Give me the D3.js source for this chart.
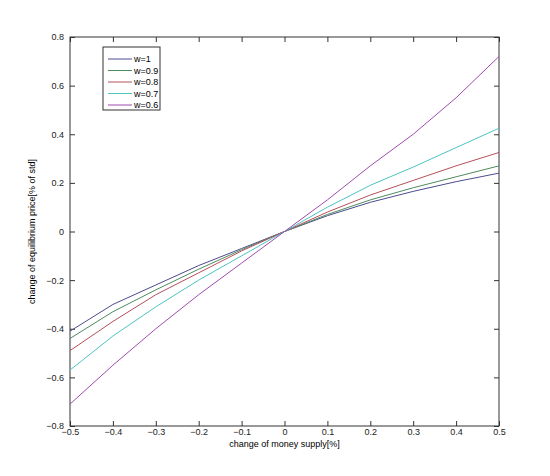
<!DOCTYPE html>
<html><head><meta charset="utf-8">
<script src="https://cdn.jsdelivr.net/npm/d3@7"></script>
<style>body{margin:0;background:#fff}text{font-family:Arial,"Liberation Sans",sans-serif}</style>
</head><body>
<svg id="c" width="550" height="476"></svg>
<script>
const xs = [-0.5, -0.4, -0.3, -0.2, -0.1, 0, 0.1, 0.2, 0.3, 0.4, 0.5]
const w10 = [-0.41, -0.30, -0.22, -0.14, -0.07, 0, 0.065, 0.12, 0.165, 0.205, 0.24]
const w09 = [-0.44, -0.33, -0.24, -0.155, -0.075, 0, 0.07, 0.13, 0.18, 0.225, 0.27]
const w08 = [-0.49, -0.37, -0.26, -0.17, -0.08, 0, 0.08, 0.15, 0.21, 0.27, 0.325]
const w07 = [-0.57, -0.43, -0.31, -0.20, -0.10, 0, 0.10, 0.19, 0.265, 0.345, 0.425]
const w06 = [-0.71, -0.55, -0.40, -0.26, -0.13, 0, 0.13, 0.27, 0.40, 0.55, 0.72]
const names = ['w=1', 'w=0.9', 'w=0.8', 'w=0.7', 'w=0.6']
const colors = ['#4b4b8f', '#4f8a5f', '#b5505a', '#4cc4c4', '#a04cb0']
const series = [w10, w09, w08, w07, w06]

const svg = d3.select('#c')
const L = 70, R = 499, T = 37, B = 426
const x = d3.scaleLinear().domain([-0.5, 0.5]).range([L, R])
const y = d3.scaleLinear().domain([-0.8, 0.8]).range([B, T])
const fmt = d => d === 0 ? '0' : d3.format('.1f')(d)

const ax = svg.append('g').attr('transform', `translate(0,${B})`)
  .call(d3.axisBottom(x).tickValues(d3.range(-5, 6).map(d => d / 10)).tickSize(-5).tickPadding(3).tickFormat(fmt))
const ax2 = svg.append('g').attr('transform', `translate(0,${T})`)
  .call(d3.axisTop(x).tickValues(d3.range(-5, 6).map(d => d / 10)).tickSize(-5).tickFormat(''))
const ay = svg.append('g').attr('transform', `translate(${L},0)`)
  .call(d3.axisLeft(y).tickValues(d3.range(-8, 9, 2).map(d => d / 10)).tickSize(-5).tickFormat(fmt))
const ay2 = svg.append('g').attr('transform', `translate(${R},0)`)
  .call(d3.axisRight(y).tickValues(d3.range(-8, 9, 2).map(d => d / 10)).tickSize(-5).tickFormat(''))
for (const a of [ax, ax2, ay, ay2]) {
  a.select('.domain').remove()
  a.selectAll('line').attr('stroke', '#333')
  a.selectAll('text').attr('font-size', 9).attr('fill', '#222')
}
ax.selectAll('text').attr('y', 3)
ay.selectAll('text').attr('dx', '-3')

svg.append('rect').attr('x', L).attr('y', T).attr('width', R - L).attr('height', B - T)
  .attr('fill', 'none').attr('stroke', '#333')

const line = d3.line().x((d, i) => x(xs[i])).y(d => y(d))
series.forEach((s, i) => {
  svg.append('path').datum(s).attr('d', line).attr('fill', 'none')
    .attr('stroke', colors[i]).attr('stroke-width', 1)
})

svg.append('text').attr('x', (L + R) / 2).attr('y', 447).attr('text-anchor', 'middle')
  .attr('font-size', 9).text('change of money supply[%]')
svg.append('text').attr('transform', `translate(35,${(T + B) / 2}) rotate(-90)`)
  .attr('text-anchor', 'middle').attr('font-size', 9).text('change of equilibrium price[% of std]')

const lg = svg.append('g').attr('transform', 'translate(103,47)')
lg.append('rect').attr('width', 57).attr('height', 63).attr('fill', '#fff').attr('stroke', '#333')
names.forEach((n, i) => {
  const yy = 12 + i * 11.5
  lg.append('line').attr('x1', 5).attr('x2', 29).attr('y1', yy).attr('y2', yy).attr('stroke', colors[i])
  lg.append('text').attr('x', 31).attr('y', yy + 3).attr('font-size', 9).text(n)
})
</script>
</body></html>
